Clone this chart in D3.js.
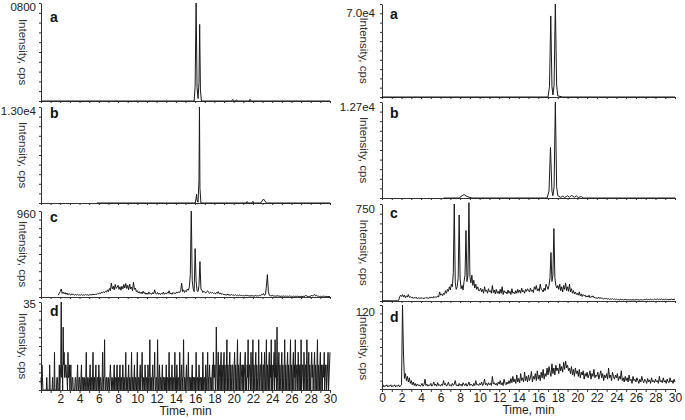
<!DOCTYPE html>
<html>
<head>
<meta charset="utf-8">
<script src="https://cdn.jsdelivr.net/npm/d3@7"></script>
<style>
  body { margin: 0; background: #fff; }
  text { font-family: Arial, "Liberation Sans", sans-serif; }
</style>
</head>
<body>
<svg width="685" height="420"></svg>
<script>
// ---- left column ----
const leftA_t = [0, 15.9, 16.0, 16.1, 16.2, 16.3, 16.4, 16.47, 16.55, 16.65, 19.8, 19.9, 20.0, 20.2, 20.3, 20.4, 21.6, 21.7, 21.8, 30];
const leftA_v = [0, 0, 120, 800, 110, 20, 150, 625, 90, 0, 0, 12, 0, 0, 10, 0, 0, 14, 0, 0];

const leftB_t = [5.8, 16.0, 16.1, 16.15, 16.2, 16.3, 16.4, 16.45, 16.5, 16.6, 21.3, 21.4, 21.5, 21.9, 22.0, 22.1, 22.8, 23.1, 23.4, 30];
const leftB_v = [0, 0, 600, 1200, 400, 100, 3000, 13000, 2000, 0, 0, 200, 0, 0, 220, 0, 0, 540, 0, 0];

// sampled every 0.1 min from 1.8 min
const leftC_start = 1.8, leftC_step = 0.1;
const leftC = [
  20, 45,
  60, 90, 40, 55, 35, 50, 30, 45, 25, 40,
  30, 20, 35, 25, 30, 20, 28, 22, 30, 18,
  25, 20, 30, 18, 24, 20, 28, 22, 26, 20,
  22, 28, 20, 30, 25, 32, 24, 35, 28, 40,
  35, 45, 40, 55, 45, 60, 50, 65, 55, 80,
  60, 95, 70, 155, 90, 120, 80, 140, 95, 110,
  130, 85, 115, 75, 120, 90, 140, 100, 150, 95,
  130, 80, 145, 90, 110, 70, 165, 85, 100, 60,
  70, 45, 60, 40, 55, 35, 65, 40, 50, 30,
  45, 30, 55, 35, 40, 30, 50, 35, 80, 40,
  35, 50, 30, 45, 28, 40, 32, 55, 30, 45,
  35, 50, 40, 70, 35, 45, 30, 50, 38, 45,
  40, 55, 45, 60, 50, 70, 155, 60, 80, 50,
  70, 60, 90, 75, 110, 250, 960, 180, 90, 60,
  540, 180, 70, 60, 130, 395, 90, 75, 50, 65,
  55, 45, 60, 70, 50, 40, 55, 45, 50, 40,
  45, 35, 50, 40, 60, 35, 45, 30, 40, 28,
  30, 22, 28, 20, 35, 18, 25, 20, 30, 18,
  22, 18, 25, 15, 20, 14, 22, 16, 18, 14,
  16, 12, 20, 14, 18, 12, 15, 10, 16, 12,
  14, 10, 12, 18, 10, 15, 12, 20, 14, 30,
  25, 40, 18, 30, 120, 250, 60, 20, 15, 12,
  20, 10, 14, 8, 12, 10, 15, 8, 10, 6,
  10, 8, 12, 6, 10, 8, 9, 6, 12, 8,
  8, 6, 10, 5, 8, 6, 10, 5, 7, 6,
  8, 5, 6, 10, 6, 20, 8, 5, 7, 6,
  9, 22, 10, 18, 30, 12, 20, 8, 10, 6,
  8, 5, 7, 10, 6, 8, 5, 6, 4, 6, 5
];

// sampled every 0.05 min from 0 (one row = 1 min)
const leftD_start = 0, leftD_step = 0.05;
const leftD = [
  5, 0, 10, 5, 0, 0, 0, 0, 0, 0, 0, 0, 5, 0, 0, 0, 0, 0, 10, 0,
  0, 0, 0, 0, 5, 0, 0, 0, 15, 0, 0, 0, 0, 5, 5, 0, 0, 0, 10, 0,
  5, 10, 35, 5, 10, 0, 25, 10, 15, 5, 5, 10, 10, 5, 5, 0, 15, 5, 5, 10,
  0, 5, 10, 0, 0, 5, 5, 0, 0, 0, 0, 5, 5, 0, 0, 5, 10, 0, 0, 5,
  5, 0, 0, 5, 10, 0, 5, 5, 0, 5, 5, 0, 0, 5, 15, 0, 0, 5, 5, 0,
  0, 5, 10, 0, 5, 5, 0, 5, 15, 0, 5, 5, 0, 5, 10, 0, 0, 5, 5, 0,
  10, 5, 0, 5, 5, 0, 0, 5, 15, 0, 5, 5, 20, 0, 0, 5, 5, 0, 0, 5,
  5, 0, 0, 5, 10, 5, 0, 5, 5, 0, 0, 5, 10, 0, 5, 5, 0, 5, 10, 0,
  5, 5, 0, 5, 10, 0, 5, 5, 0, 5, 10, 0, 5, 5, 0, 5, 15, 0, 5, 5,
  0, 5, 10, 0, 5, 5, 0, 5, 15, 0, 5, 5, 0, 5, 10, 0, 5, 5, 0, 5,
  15, 0, 5, 5, 0, 5, 10, 0, 5, 5, 15, 0, 0, 5, 5, 0, 10, 5, 0, 5,
  5, 0, 10, 5, 0, 5, 20, 0, 5, 5, 0, 5, 10, 0, 5, 5, 15, 0, 0, 5,
  5, 0, 20, 5, 0, 5, 10, 0, 5, 5, 0, 5, 10, 0, 5, 5, 0, 5, 5, 0,
  10, 0, 5, 5, 0, 5, 15, 0, 5, 5, 0, 5, 10, 0, 5, 5, 0, 5, 15, 0,
  5, 0, 10, 5, 0, 5, 5, 0, 15, 5, 0, 5, 10, 0, 5, 5, 20, 0, 5, 5,
  0, 5, 10, 0, 5, 5, 15, 0, 5, 5, 0, 5, 0, 5, 10, 0, 5, 5, 0, 5,
  5, 0, 15, 5, 0, 5, 5, 0, 10, 5, 0, 5, 5, 0, 5, 0, 15, 5, 0, 5,
  5, 0, 10, 5, 0, 5, 15, 0, 5, 5, 10, 0, 5, 5, 0, 5, 10, 0, 15, 5,
  5, 10, 0, 5, 25, 10, 0, 5, 15, 0, 10, 5, 0, 10, 15, 0, 10, 5, 0, 10,
  15, 0, 10, 5, 0, 10, 20, 0, 10, 5, 0, 10, 15, 0, 10, 5, 0, 10, 10, 0,
  5, 10, 15, 0, 10, 5, 0, 10, 20, 0, 10, 5, 0, 10, 15, 0, 5, 10, 10, 0,
  10, 0, 5, 10, 15, 0, 5, 0, 10, 5, 20, 0, 5, 10, 10, 0, 15, 5, 0, 10,
  20, 0, 10, 5, 0, 10, 15, 0, 10, 5, 0, 5, 20, 0, 5, 10, 10, 0, 15, 5,
  0, 10, 10, 0, 15, 5, 0, 10, 20, 0, 10, 5, 0, 10, 15, 0, 10, 5, 20, 0,
  10, 0, 5, 10, 15, 0, 20, 5, 10, 0, 25, 5, 0, 10, 15, 0, 10, 5, 0, 10,
  15, 0, 10, 5, 0, 10, 20, 0, 10, 5, 0, 10, 15, 0, 10, 5, 0, 10, 20, 0,
  10, 5, 0, 10, 15, 0, 10, 5, 20, 0, 5, 10, 10, 0, 15, 5, 0, 10, 10, 0,
  20, 0, 5, 10, 10, 0, 15, 5, 0, 10, 10, 0, 20, 5, 0, 10, 15, 0, 10, 5,
  0, 10, 15, 5, 10, 0, 5, 10, 15, 0, 10, 5, 0, 10, 20, 0, 10, 5, 0, 10,
  15, 0, 10, 5, 0, 10, 10, 5, 15, 0, 5, 10, 10, 0, 5, 10, 15, 0, 5, 10, 15
];

// ---- right column ----
const rightA_t = [0, 17.0, 17.15, 17.28, 17.4, 17.5, 17.62, 17.75, 17.88, 18.0, 18.5, 30];
const rightA_v = [0, 0, 8000, 61000, 8000, 1500, 9000, 70000, 9000, 800, 0, 0];

const rightB_t = [6.3, 7.9, 8.2, 8.4, 8.7, 9.2, 16.9, 17.1, 17.25, 17.4, 17.5, 17.62, 17.75, 17.88, 18.0, 18.3, 18.5, 18.7, 19.0, 19.2, 19.4, 19.7, 19.9, 20.1, 20.4, 20.6, 20.8, 30];
const rightB_v = [0, 0, 300, 450, 200, 0, 0, 900, 6700, 900, 300, 1500, 12700, 1500, 300, 80, 250, 60, 300, 80, 350, 100, 280, 60, 200, 0, 0, 0];

const rightC_start = 0, rightC_step = 0.1;
const rightC = [
  2, 3, 2, 3, 2, 3, 2, 3, 2, 3,
  2, 3, 2, 3, 2, 3, 2, 3, 30, 45,
  35, 50, 30, 45, 25, 40, 30, 50, 28, 35,
  25, 30, 20, 28, 22, 30, 18, 26, 20, 24,
  20, 26, 18, 24, 20, 28, 22, 25, 20, 30,
  24, 30, 22, 35, 26, 32, 28, 40, 30, 70,
  45, 55, 40, 60, 50, 80, 60, 90, 75, 110,
  85, 130, 110, 220, 750, 140, 90, 110, 180, 665,
  170, 95, 120, 85, 150, 200, 545, 150, 200, 760,
  190, 140, 200, 120, 160, 100, 130, 90, 110, 80,
  80, 100, 70, 90, 60, 110, 75, 85, 60, 95,
  70, 80, 60, 120, 65, 85, 55, 90, 60, 75,
  55, 90, 60, 110, 50, 80, 65, 70, 55, 85,
  60, 75, 50, 95, 60, 70, 55, 80, 60, 90,
  65, 85, 60, 100, 70, 80, 60, 90, 75, 95,
  80, 70, 100, 75, 85, 65, 110, 90, 120, 80,
  95, 75, 130, 90, 85, 70, 100, 80, 130, 110,
  90, 120, 180, 375, 150, 200, 560, 180, 120, 100,
  120, 90, 130, 80, 110, 70, 120, 90, 140, 80,
  110, 75, 130, 70, 95, 60, 80, 55, 70, 50,
  60, 45, 70, 40, 55, 35, 50, 40, 45, 30,
  40, 30, 45, 25, 35, 30, 40, 25, 30, 20,
  25, 20, 30, 18, 25, 20, 22, 15, 20, 18,
  20, 15, 18, 12, 16, 14, 18, 12, 15, 10,
  14, 10, 12, 8, 13, 10, 12, 8, 10, 12,
  10, 8, 12, 7, 10, 9, 8, 11, 7, 10,
  9, 12, 8, 10, 7, 11, 9, 8, 10, 12,
  10, 14, 9, 12, 8, 16, 10, 12, 9, 15,
  12, 10, 18, 9, 14, 11, 16, 10, 13, 9,
  15, 10, 12, 9, 14, 8, 16, 12, 10, 14, 11
];

const rightD_start = 0, rightD_step = 0.1;
const rightD = [
  4, 6, 3, 5, 4, 6, 3, 5, 4, 6,
  3, 5, 4, 6, 3, 5, 4, 6, 3, 5,
  6, 120, 50, 15, 22, 12, 18, 10, 16, 8,
  12, 6, 10, 5, 8, 4, 7, 5, 6, 4,
  5, 8, 4, 6, 14, 5, 7, 4, 6, 5,
  8, 4, 6, 10, 5, 7, 4, 9, 5, 6,
  4, 7, 5, 12, 6, 8, 4, 6, 10, 5,
  6, 4, 8, 5, 7, 12, 5, 6, 4, 8,
  5, 7, 4, 9, 6, 5, 8, 4, 6, 10,
  5, 7, 6, 4, 8, 5, 12, 6, 7, 5,
  8, 6, 10, 5, 7, 14, 6, 8, 5, 9,
  6, 8, 5, 18, 7, 9, 6, 8, 5, 10,
  7, 12, 6, 9, 5, 14, 8, 6, 10, 7,
  12, 8, 15, 9, 18, 10, 14, 8, 20, 10,
  15, 9, 22, 12, 16, 10, 24, 12, 18, 10,
  20, 12, 16, 25, 10, 18, 14, 22, 12, 26,
  14, 20, 12, 24, 16, 28, 14, 22, 18, 30,
  20, 32, 24, 18, 36, 22, 30, 20, 34, 26,
  30, 22, 36, 26, 32, 24, 38, 28, 40, 30,
  34, 26, 30, 22, 32, 20, 28, 18, 30, 22,
  26, 18, 28, 16, 24, 20, 26, 14, 22, 18,
  24, 16, 20, 26, 14, 22, 18, 28, 16, 20,
  18, 24, 14, 20, 26, 16, 22, 12, 20, 16,
  22, 14, 30, 16, 20, 12, 24, 18, 14, 20,
  16, 22, 12, 18, 14, 26, 12, 16, 10, 18,
  12, 16, 10, 20, 12, 14, 8, 18, 12, 14,
  10, 16, 12, 8, 14, 10, 18, 12, 9, 14,
  12, 8, 15, 10, 13, 8, 16, 10, 12, 9,
  14, 10, 12, 8, 18, 10, 12, 9, 16, 10,
  12, 8, 14, 10, 9, 16, 10, 12, 8, 14, 10
];

// axis top labels and tick labels
const leftMaxLabels = ["0800", "1.30e4", "960", "35"];
const rightMaxLabels = ["7.0e4", "1.27e4", "750", "120"];
const leftMax = [800, 13000, 960, 35];
const rightMax = [70000, 12700, 750, 120];
const panelLetters = ["a", "b", "c", "d"];
const leftTimeTicks = [2, 4, 6, 8, 10, 12, 14, 16, 18, 20, 22, 24, 26, 28, 30];
const rightTimeTicks = [0, 2, 4, 6, 8, 10, 12, 14, 16, 18, 20, 22, 24, 26, 28, 30];

function pairs(ts, vs) { return ts.map((t, i) => ({t, v: vs[i]})); }
function sampled(start, step, vs) { return vs.map((v, i) => ({t: start + i * step, v})); }

const columns = [
  {
    x0: 41, x1: 330, yTitleX: 23, maxLabelX: 36, letterX: 50,
    ticks: leftTimeTicks, maxLabels: leftMaxLabels, max: leftMax,
    panels: [
      {top: 3, bottom: 101, labelY: 7, letterY: 17, data: pairs(leftA_t, leftA_v)},
      {top: 107, bottom: 203, labelY: 111, letterY: 113, data: pairs(leftB_t, leftB_v)},
      {top: 211, bottom: 297, labelY: 214, letterY: 217, data: sampled(leftC_start, leftC_step, leftC)},
      {top: 302, bottom: 390, labelY: 304, letterY: 311, data: sampled(leftD_start, leftD_step, leftD)}
    ]
  },
  {
    x0: 382, x1: 675, yTitleX: 364, maxLabelX: 375, letterX: 390,
    ticks: rightTimeTicks, maxLabels: rightMaxLabels, max: rightMax,
    panels: [
      {top: 4, bottom: 97, labelY: 13, letterY: 14, data: pairs(rightA_t, rightA_v)},
      {top: 102, bottom: 198, labelY: 107, letterY: 113, data: pairs(rightB_t, rightB_v)},
      {top: 204, bottom: 301, labelY: 209, letterY: 213, data: sampled(rightC_start, rightC_step, rightC)},
      {top: 305, bottom: 389, labelY: 312, letterY: 317, data: sampled(rightD_start, rightD_step, rightD)}
    ]
  }
];

const svg = d3.select("svg");
const axisColor = "#333";

columns.forEach(col => {
  const x = d3.scaleLinear().domain([0, 30]).range([col.x0, col.x1]);

  col.panels.forEach((p, i) => {
    const y = d3.scaleLinear().domain([0, col.max[i]]).range([p.bottom, p.top]);
    const g = svg.append("g");

    // y axis with small minor ticks
    const ya = g.append("g")
      .attr("transform", `translate(${col.x0},0)`)
      .call(d3.axisLeft(y)
        .tickValues(d3.range(0, 11).map(k => col.max[i] * k / 10))
        .tickSize(2).tickSizeOuter(0).tickFormat(""));
    ya.selectAll("path,line").attr("stroke", axisColor);

    // x axis (baseline)
    const isLast = i === col.panels.length - 1;
    const xa = g.append("g")
      .attr("transform", `translate(0,${p.bottom})`)
      .call(d3.axisBottom(x)
        .tickValues(d3.range(0, 31))
        .tickSize(isLast ? 3 : 2).tickSizeOuter(0).tickFormat(""));
    xa.selectAll("path,line").attr("stroke", axisColor);

    if (isLast) {
      const lab = g.append("g")
        .attr("transform", `translate(0,${p.bottom})`)
        .call(d3.axisBottom(x).tickValues(col.ticks).tickSize(0).tickPadding(4).tickFormat(d3.format("d")));
      lab.select(".domain").remove();
      lab.selectAll("text")
        .attr("fill", "#222")
        .style("font-size", "12px")
        .style("font-family", "Arial, 'Liberation Sans', sans-serif");

      svg.append("text")
        .attr("x", (col.x0 + col.x1) / 2)
        .attr("y", p.bottom + 25)
        .attr("text-anchor", "middle")
        .attr("fill", "#222")
        .style("font-size", "12px")
        .text("Time, min");
    }

    // trace
    g.append("path")
      .datum(p.data)
      .attr("fill", "none")
      .attr("stroke", "#1a1a1a")
      .attr("stroke-width", 1)
      .attr("d", d3.line().x(d => x(d.t)).y(d => y(d.v)));

    // max value label
    g.append("text")
      .attr("x", col.maxLabelX)
      .attr("y", p.labelY)
      .attr("dy", "0.35em")
      .attr("text-anchor", "end")
      .attr("fill", "#222")
      .style("font-size", "11.5px")
      .text(col.maxLabels[i]);

    // panel letter
    g.append("text")
      .attr("x", col.letterX)
      .attr("y", p.letterY)
      .attr("dy", "0.35em")
      .attr("fill", "#111")
      .style("font-size", "14px")
      .style("font-weight", "bold")
      .text(panelLetters[i]);

    // y axis title
    g.append("text")
      .attr("transform", `translate(${col.yTitleX},${(p.top + p.bottom) / 2}) rotate(90)`)
      .attr("text-anchor", "middle")
      .attr("dy", "0.35em")
      .attr("fill", "#333")
      .style("font-size", "11.5px")
      .text("Intensity, cps");
  });
});
</script>
</body>
</html>
